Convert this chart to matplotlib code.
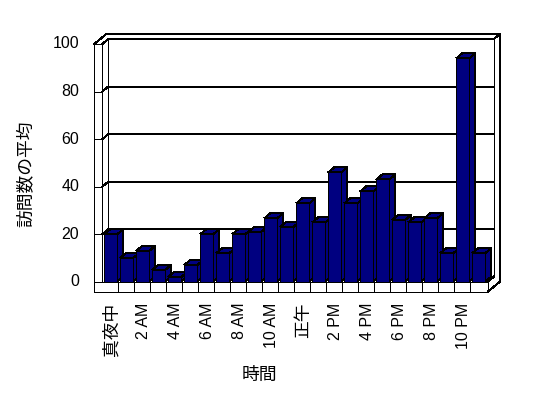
import matplotlib.pyplot as plt
from matplotlib.patches import Polygon

plt.rcParams['font.family'] = ['Liberation Sans', 'Noto Sans CJK JP', 'DejaVu Sans']

# average visits per hour (0..23)
hours = list(range(24))
visits = [20, 10, 13, 5, 2, 7, 20, 12, 20, 21, 26.7, 23,
          33, 25, 46, 33, 38, 43, 26, 25, 26.7, 12, 94, 12]
tick_pos = list(range(0, 24, 2))
tick_labels = ['真夜中', '2 AM', '4 AM', '6 AM', '8 AM', '10 AM',
               '正午', '2 PM', '4 PM', '6 PM', '8 PM', '10 PM']
y_ticks = [0, 20, 40, 60, 80, 100]

bar_color = '#000080'
W, H = 548, 398

fig = plt.figure(figsize=(W / 100, H / 100), dpi=100)
# front plane: category 0..24 -> px 102..486, value 0..100 -> px 282..44
ax = fig.add_axes([102.3 / W, (H - 281.7) / H, 384 / W, 237.7 / H])
ax.set_xlim(0, 24)
ax.set_ylim(0, 100)
ax.axis('off')

dx = 6 / 16          # depth offset in categories
dy = 5 / 2.377       # depth offset in value units
wall = 0.5           # left wall thickness
floor = 10 / 2.377   # floor thickness
xr = 24.1            # right end of floor
lw = 0.72
lk = dict(color='black', lw=lw, clip_on=False, antialiased=False)

# back wall: inner face and outer edge
for v in y_ticks[1:]:
    ax.plot([0, dx, xr + dx], [v, v + dy, v + dy], zorder=1, **lk)
ax.plot([dx, dx], [dy, 100 + dy], **lk)
ax.plot([xr + dx, xr + dx], [dy, 100 + dy], **lk)
ax.plot([-wall, -wall + 2 * dx, xr + 2 * dx, xr + 2 * dx],
        [100, 100 + 2 * dy, 100 + 2 * dy, -floor + 2 * dy], **lk)
ax.plot([xr + dx, xr + 2 * dx], [100 + dy, 100 + 2 * dy], **lk)

# left wall front face with ticks
ax.plot([-wall, -wall], [-floor, 100], **lk)
ax.plot([0, 0], [0, 100], **lk)
for v in y_ticks:
    ax.plot([-wall, 0], [v, v], **lk)
    ax.text(-1.44, v, str(v), ha='right', va='center', fontsize=11.5)

# floor front face
ax.plot([-wall, xr, xr, 0], [-floor, -floor, 0, 0], **lk)
ax.plot([xr, xr + 2 * dx], [-floor, -floor + 2 * dy], **lk)
ax.plot([xr, xr + dx], [0, dy], **lk)
for i in hours[1:]:
    ax.plot([i, i], [-floor, 0], **lk)

# bars with 3D side and top
for i, v in zip(hours, visits):
    x0 = i + 2 / 16
    x1 = x0 + 13 / 16
    z = 3 + i * 0.01
    side = [(x1, 0), (x1 + dx, dy), (x1 + dx, v + dy), (x1, v)]
    top = [(x0, v), (x1, v), (x1 + dx, v + dy), (x0 + dx, v + dy)]
    front = [(x0, 0), (x1, 0), (x1, v), (x0, v)]
    for pts in (side, top, front):
        ax.add_patch(Polygon(pts, closed=True, facecolor=bar_color, edgecolor='black',
                             lw=lw, zorder=z, clip_on=False, antialiased=False))

for p, lab in zip(tick_pos, tick_labels):
    cjk = lab in ('真夜中', '正午')
    ax.text(p + 0.6, -8.9, lab, rotation=90, ha='center', va='top',
            fontsize=12.8 if cjk else 11.5)

fig.text(26.5 / W, 1 - 174 / H, '訪問数の平均', rotation=90, ha='center', va='center',
         fontsize=12.8)
fig.text(259 / W, 1 - 375 / H, '時間', ha='center', va='center', fontsize=12.8)

fig.savefig('out.png', dpi=100)
